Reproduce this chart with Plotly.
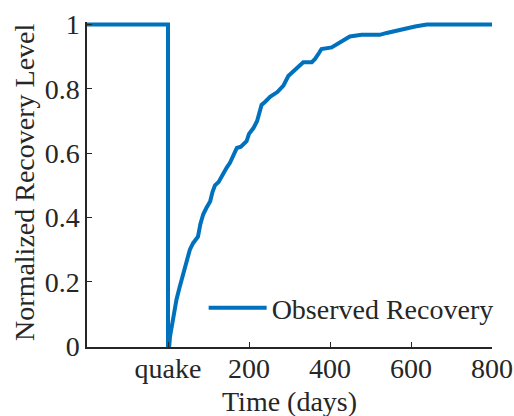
import plotly.graph_objects as go

days = [-200, 0, 0, 3, 5, 9, 15, 21, 28, 38, 46, 54, 62, 74, 80, 87, 95, 104, 110, 116, 125, 133,
        145, 153, 160, 170, 180, 194, 200, 211, 220, 231, 240, 252, 270, 285, 297, 305, 314, 325,
        334, 355, 363, 372, 379, 404, 412, 425, 440, 449, 478, 523, 540, 565, 593, 610, 639, 800]
level = [1, 1, 0, 0, 0.03, 0.06, 0.10, 0.145, 0.18, 0.227, 0.26, 0.30, 0.32, 0.34, 0.38, 0.41, 0.43,
         0.45, 0.48, 0.50, 0.51, 0.53, 0.555, 0.57, 0.59, 0.616, 0.62, 0.637, 0.66, 0.678, 0.70, 0.75,
         0.76, 0.775, 0.79, 0.81, 0.84, 0.85, 0.862, 0.875, 0.883, 0.883, 0.893, 0.91, 0.924, 0.929,
         0.935, 0.945, 0.955, 0.963, 0.968, 0.968, 0.974, 0.982, 0.991, 0.994, 1.0, 1.0]

x_tickvals = [0, 200, 400, 600, 800]
x_ticktext = ["quake", "200", "400", "600", "800"]
y_tickvals = [0, 0.2, 0.4, 0.6, 0.8, 1]
y_ticktext = ["0", "0.2", "0.4", "0.6", "0.8", "1"]

fig = go.Figure()
fig.add_trace(go.Scatter(x=days, y=level, mode="lines", name="Observed Recovery",
                         line=dict(color="#0072BD", width=4)))

font = dict(family="Liberation Serif", size=28, color="#262626")
fig.update_layout(
    width=514, height=416,
    margin=dict(l=87, r=22, t=22, b=69),
    paper_bgcolor="white", plot_bgcolor="white",
    font=font,
    showlegend=True,
    legend=dict(x=0.288, y=0.12, xanchor="left", yanchor="middle",
                bgcolor="rgba(0,0,0,0)", itemwidth=58, font=font),
    xaxis=dict(range=[-200, 800], tickvals=x_tickvals, ticktext=x_ticktext,
               showgrid=False, zeroline=False, showline=True, linecolor="#262626", linewidth=1.5,
               ticks="inside", ticklen=5, tickcolor="#262626", tickfont=font, automargin=False,
               ticklabelstandoff=-4),
    yaxis=dict(range=[-0.003, 1.008], tickvals=y_tickvals, ticktext=y_ticktext,
               showgrid=False, zeroline=False, showline=True, linecolor="#262626", linewidth=1.5,
               ticks="inside", ticklen=5, tickcolor="#262626", tickfont=font, automargin=False),
    annotations=[
        dict(text="Time (days)", xref="paper", yref="paper", x=0.5, y=-0.167,
             xanchor="center", yanchor="middle", showarrow=False, font=font),
        dict(text="Normalized Recovery Level", xref="paper", yref="paper", x=-0.153, y=0.505,
             xanchor="center", yanchor="middle", textangle=-90, showarrow=False, font=font),
    ],
)

fig.write_html("out.html", config={"displayModeBar": False},
               post_script="document.body.style.margin='0';")
